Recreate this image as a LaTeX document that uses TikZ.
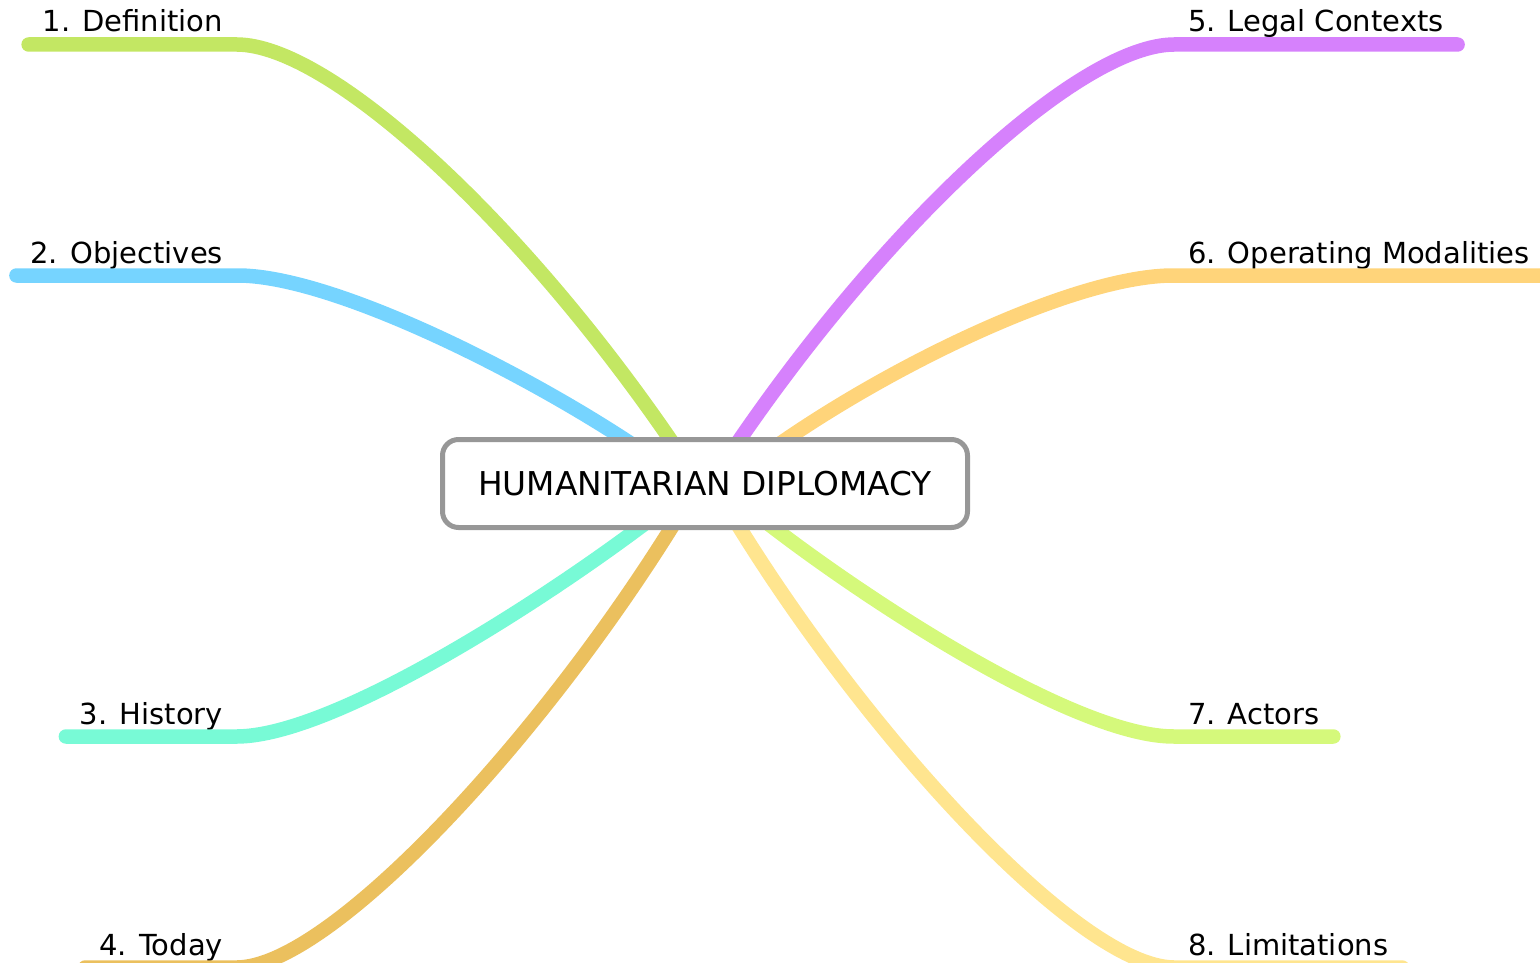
\documentclass[tikz,border=0pt]{standalone}
\usepackage{fontspec}
\setmainfont{DejaVu Sans}

\definecolor{defgreen}{HTML}{C3E763}
\definecolor{objblue}{HTML}{76D4FF}
\definecolor{histmint}{HTML}{78FAD6}
\definecolor{todaygold}{HTML}{EBC05E}
\definecolor{legalpurple}{HTML}{D681FC}
\definecolor{opsorange}{HTML}{FFD47A}
\definecolor{actorlime}{HTML}{D5F97B}
\definecolor{limyellow}{HTML}{FFE58F}
\definecolor{boxgray}{HTML}{979797}

\tikzset{
  branch/.style={line width=14.5pt, line cap=round},
  lbl/.style={inner xsep=14pt, inner ysep=0pt, outer sep=0pt, text depth=12.5pt,
    font=\fontsize{29}{34}\selectfont},
  hub/.style={draw=boxgray, line width=5pt, fill=white, rounded corners=16pt,
    minimum width=525pt, minimum height=88pt, font=\fontsize{32.8}{38}\selectfont}
}

\begin{document}
\begin{tikzpicture}[x=1pt,y=-1pt]
        \useasboundingbox (0,0) rectangle (1540,963);
        % labels, left
        \node [lbl, anchor=base east] (defn) at (237,32) {1. Definition};
        \node [lbl, anchor=base east] (obj) at (237,263) {2. Objectives};
        \node [lbl, anchor=base east] (hist) at (237,724) {3. History};
        \node [lbl, anchor=base east] (today) at (237,955) {4. Today};
        % labels, right
        \node [lbl, anchor=base west] (legal) at (1174,32) {5. Legal Contexts};
        \node [lbl, anchor=base west] (ops) at (1174,263) {6. Operating Modalities};
        \node [lbl, anchor=base west] (actors) at (1174,724) {7. Actors};
        \node [lbl, anchor=base west] (limits) at (1174,955) {8. Limitations};
        % ends at the box
        \coordinate (in-defn) at (672,442);
        \coordinate (in-obj) at (633,445);
        \coordinate (in-hist) at (647,522);
        \coordinate (in-today) at (675,522);
        \coordinate (in-legal) at (738,442);
        \coordinate (in-ops) at (778,445);
        \coordinate (in-actors) at (766,522);
        \coordinate (in-limits) at (736,522);
        % branches
        \draw [branch, defgreen] (defn.south west) -- (defn.south east) .. controls (330,45) and (520,220) .. (in-defn);
        \draw [branch, objblue] (obj.south west) -- (obj.south east) .. controls (330,275) and (520,370) .. (in-obj);
        \draw [branch, histmint] (hist.south west) -- (hist.south east) .. controls (330,736) and (530,610) .. (in-hist);
        \draw [branch, todaygold] (today.south west) -- (today.south east) .. controls (330,967) and (540,740) .. (in-today);
        \draw [branch, legalpurple] (legal.south east) -- (legal.south west) .. controls (1080,45) and (890,220) .. (in-legal);
        \draw [branch, opsorange] (ops.south east) -- (ops.south west) .. controls (1080,275) and (900,360) .. (in-ops);
        \draw [branch, actorlime] (actors.south east) -- (actors.south west) .. controls (1080,737) and (880,610) .. (in-actors);
        \draw [branch, limyellow] (limits.south east) -- (limits.south west) .. controls (1080,967) and (870,740) .. (in-limits);
        % box
        \node [hub] (hd) at (705,483.5) {HUMANITARIAN DIPLOMACY};
    \end{tikzpicture}
\end{document}
